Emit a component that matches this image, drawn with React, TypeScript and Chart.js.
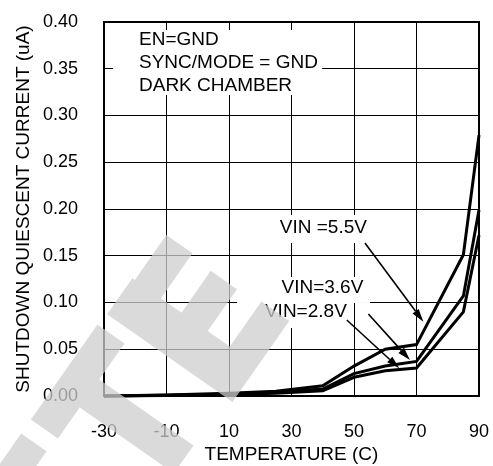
import React, { useEffect, useRef } from 'react';
import { Chart, registerables } from 'chart.js';

Chart.register(...registerables);

// ---- data ----
const temperatures = [-30, -10, 10, 25, 40, 50, 60, 70, 85, 90];
const vin55 = [0.0, 0.001, 0.003, 0.005, 0.011, 0.032, 0.050, 0.055, 0.151, 0.279];
const vin36 = [0.0, 0.0008, 0.002, 0.004, 0.0075, 0.024, 0.032, 0.037, 0.107, 0.199];
const vin28 = [0.0, 0.0005, 0.0015, 0.003, 0.0057, 0.020, 0.027, 0.030, 0.090, 0.172];
const seriesNames = ['VIN =5.5V', 'VIN=3.6V', 'VIN=2.8V'];

const xTickValues = [-30, -10, 10, 30, 50, 70, 90];
const yTickLabels = ['0.00', '0.05', '0.10', '0.15', '0.20', '0.25', '0.30', '0.35', '0.40'];
const xTitle = 'TEMPERATURE (C)';
const yTitle = 'SHUTDOWN QUIESCENT CURRENT (uA)';
const noteLines = ['EN=GND', 'SYNC/MODE = GND', 'DARK CHAMBER'];

const FONT = '"Liberation Sans", Arial, Helvetica, sans-serif';

// annotation layout in data units: [x1, y1, x2, y2] boxes, label centres and arrows
const noteBox = [-27.1, 0.3914, 39.8, 0.3219];
const noteTextX = -18.8;
const noteTextY = [0.3807, 0.3561, 0.3315];
const labelBoxes = [
  [25.0, 0.1936, 55.1, 0.1636],
  [25.0, 0.1273, 55.1, 0.0995],
  [12.6, 0.1027, 49.4, 0.0727],
];
const labelCentres = [
  [40.2, 0.1797],
  [39.9, 0.116],
  [34.6, 0.0904],
];
const arrows = [
  [53.5, 0.1636, 72.2, 0.0795],
  [54.6, 0.0877, 67.9, 0.0385],
  [47.7, 0.0813, 64.5, 0.0296],
];

const toPoints = (ys: number[]) => temperatures.map((t, i) => ({ x: t, y: ys[i] }));

const annotationPlugin = {
  id: 'annotations',
  afterDatasetsDraw(chart: any) {
    const { ctx, chartArea, scales } = chart;
    const xs = scales.x;
    const ys = scales.y;
    const px = (v: number) => xs.getPixelForValue(v);
    const py = (v: number) => ys.getPixelForValue(v);
    ctx.save();
    ctx.fillStyle = '#fff';
    const boxes = [noteBox, ...labelBoxes];
    boxes.forEach((b) => {
      const x1 = px(b[0]);
      const y1 = py(b[1]);
      ctx.fillRect(x1, y1, px(b[2]) - x1, py(b[3]) - y1);
    });
    // frame
    ctx.strokeStyle = '#000';
    ctx.lineWidth = 2;
    ctx.strokeRect(chartArea.left, chartArea.top, chartArea.right - chartArea.left, chartArea.bottom - chartArea.top);
    // texts
    ctx.fillStyle = '#000';
    ctx.font = `19px ${FONT}`;
    ctx.textBaseline = 'middle';
    ctx.textAlign = 'left';
    noteLines.forEach((t, i) => ctx.fillText(t, px(noteTextX), py(noteTextY[i])));
    ctx.textAlign = 'center';
    seriesNames.forEach((t, i) => ctx.fillText(t, px(labelCentres[i][0]), py(labelCentres[i][1])));
    // arrows
    ctx.lineWidth = 1.6;
    arrows.forEach((a) => {
      const x1 = px(a[0]);
      const y1 = py(a[1]);
      const x2 = px(a[2]);
      const y2 = py(a[3]);
      const ang = Math.atan2(y2 - y1, x2 - x1);
      const L = 13;
      const W = 3.8;
      const bx = x2 - L * Math.cos(ang);
      const by = y2 - L * Math.sin(ang);
      ctx.beginPath();
      ctx.moveTo(x1, y1);
      ctx.lineTo(bx, by);
      ctx.stroke();
      ctx.beginPath();
      ctx.moveTo(x2, y2);
      ctx.lineTo(bx + W * Math.sin(ang), by - W * Math.cos(ang));
      ctx.lineTo(bx - W * Math.sin(ang), by + W * Math.cos(ang));
      ctx.closePath();
      ctx.fill();
    });
    ctx.restore();
  },
};

// decorative watermark (letters "...ETE" rotated), drawn in page pixels
const wmRects = [
  [-420, -343, 266, 297],
  [-326, -210, 266, 299],
  [-288, -254, 299, 414],
  [-196, -152, 268, 421],
  [-152, -97, 271, 303],
  [-152, -101, 328, 360],
  [-152, -97, 387, 421],
];
const watermarkPlugin = {
  id: 'watermark',
  afterDraw(chart: any) {
    const { ctx } = chart;
    const th = (55 * Math.PI) / 180;
    const a = [Math.cos(th), -Math.sin(th)];
    const b = [Math.sin(th), Math.cos(th)];
    const P = (s: number, t: number) => [s * a[0] + t * b[0], s * a[1] + t * b[1]];
    ctx.save();
    ctx.fillStyle = 'rgba(205,205,205,0.75)';
    ctx.beginPath();
    wmRects.forEach((r) => {
      const pts = [P(r[0], r[2]), P(r[1], r[2]), P(r[1], r[3]), P(r[0], r[3])];
      ctx.moveTo(pts[0][0], pts[0][1]);
      for (let i = 1; i < 4; i++) ctx.lineTo(pts[i][0], pts[i][1]);
      ctx.closePath();
    });
    ctx.fill('nonzero');
    ctx.restore();
  },
};

export default function App() {
  const ref = useRef<HTMLCanvasElement>(null);
  useEffect(() => {
    document.body.style.margin = '0';
    document.body.style.overflow = 'hidden';
    Chart.defaults.font.family = FONT;
    Chart.defaults.color = '#000';
    const line = (data: number[], label: string) => ({
      label,
      data: toPoints(data),
      borderColor: '#000',
      backgroundColor: '#000',
      borderWidth: 3,
      pointRadius: 0,
      tension: 0,
      fill: false,
      clip: 4,
    });
    const chart = new Chart(ref.current!, {
      type: 'line',
      data: {
        datasets: [line(vin55, seriesNames[0]), line(vin36, seriesNames[1]), line(vin28, seriesNames[2])],
      },
      options: {
        animation: false,
        responsive: false,
        devicePixelRatio: 1,
        layout: { padding: { top: 22, right: 14, left: 0, bottom: 0 } },
        plugins: { legend: { display: false }, tooltip: { enabled: false } },
        scales: {
          x: {
            type: 'linear',
            min: -30,
            max: 90,
            afterBuildTicks: (s: any) => {
              s.ticks = xTickValues.map((v) => ({ value: v }));
            },
            afterFit: (s: any) => {
              s.height = 70;
              s.paddingLeft = 0;
              s.paddingRight = 0;
            },
            grid: { color: '#000', lineWidth: 1, drawTicks: false },
            border: { display: false },
            ticks: { padding: 25, font: { size: 18 }, color: '#000', maxRotation: 0, callback: (v: any) => String(v) },
            title: { display: true, text: xTitle, font: { size: 19 }, color: '#000', padding: { top: 0, bottom: 0 } },
          },
          y: {
            type: 'linear',
            min: 0,
            max: 0.4,
            ticks: {
              stepSize: 0.05,
              padding: 26,
              font: { size: 18 },
              color: '#000',
              callback: (_v: any, i: number) => yTickLabels[i],
            },
            afterFit: (s: any) => {
              s.width = 104;
              s.paddingTop = 0;
              s.paddingBottom = 0;
            },
            grid: { color: '#000', lineWidth: 1, drawTicks: false },
            border: { display: false },
            title: { display: true, text: yTitle, font: { size: 19 }, color: '#000', padding: { top: 12, bottom: 0 } },
          },
        },
      },
      plugins: [annotationPlugin, watermarkPlugin],
    });
    return () => chart.destroy();
  }, []);
  return (
    <div style={{ width: 493, height: 466 }}>
      <canvas ref={ref} width={493} height={466} style={{ display: 'block' }} />
    </div>
  );
}
